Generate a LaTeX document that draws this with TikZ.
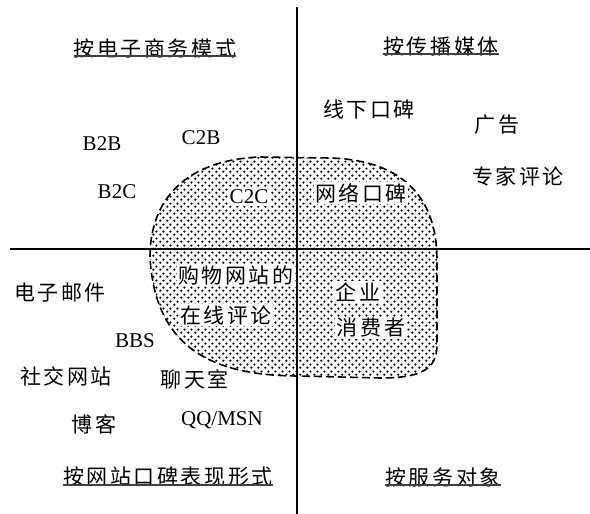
\documentclass[tikz,border=0pt]{standalone}
\usepackage{fontspec}
\setmainfont{Liberation Serif}
\newfontfamily\cjk[LetterSpace=12]{Noto Sans CJK SC}
\usetikzlibrary{positioning,patterns}
\pgfdeclarepatternformonly{blob dots}{\pgfqpoint{-1.5pt}{-1.5pt}}{\pgfqpoint{5.5pt}{5.5pt}}{\pgfqpoint{7pt}{7pt}}{%
  \pgfpathcircle{\pgfqpoint{0pt}{0pt}}{1.4pt}%
  \pgfpathcircle{\pgfqpoint{3.5pt}{3.5pt}}{1.4pt}%
  \pgfusepath{fill}}

\begin{document}
\begin{tikzpicture}[
    x=1pt, y=-1pt, % pixel grid, origin top left
    axis/.style={draw, line width=1.2pt},
    heading/.style={font=\fontsize{21}{24}\selectfont\cjk, inner sep=0pt},
    cnlabel/.style={font=\fontsize{21}{24}\selectfont\cjk, inner sep=0pt},
    enlabel/.style={font=\fontsize{21}{24}\selectfont, inner sep=0pt},
    inblob/.style={fill=white, inner sep=1.5pt},
    uline/.style={draw, line width=1.8pt, black!75},
    blob/.style={draw, line width=1.6pt, dash pattern=on 8pt off 4pt, pattern=blob dots}
]
    \useasboundingbox (0,0) rectangle (590,514);

    % Shaded region
    \path [blob] (150,257) .. controls (150,200) and (185,160) .. (260,157)
        -- (330,158) .. controls (400,160) and (437,195) .. (437,260)
        -- (437,345) .. controls (437,370) and (420,378) .. (380,378)
        -- (300,376) .. controls (215,376) and (155,350) .. (150,257) -- cycle;

    % Axes
    \coordinate (top) at (297,7);
    \coordinate (bottom) at (297,514);
    \coordinate (left) at (10,249);
    \coordinate (right) at (590,249);
    \path [axis] (top) -- (bottom);
    \path [axis] (left) -- (right);

    % Headings
    \node (ecom) [heading] at (155,48) {按电子商务模式};
    \node (media) [heading] at (441,46) {按传播媒体};
    \node (form) [heading] at (168,477) {按网站口碑表现形式};
    \node (target) [heading] at (443,477) {按服务对象};
    \path [uline] ([yshift=2pt]ecom.south west) -- ([yshift=2pt]ecom.south east);
    \path [uline] ([yshift=2pt]media.south west) -- ([yshift=2pt]media.south east);
    \path [uline] ([yshift=2pt]form.south west) -- ([yshift=2pt]form.south east);
    \path [uline] ([yshift=2pt]target.south west) -- ([yshift=2pt]target.south east);

    % Top left
    \node (b2b) [enlabel] at (102,144) {B2B};
    \node (c2b) [enlabel] at (201,138) {C2B};
    \node (b2c) [enlabel] at (117,192) {B2C};
    \node (c2c) [enlabel, inblob] at (249,197) {C2C};

    % Top right
    \node (offline) [cnlabel] at (369,109) {线下口碑};
    \node (ads) [cnlabel] at (497,125) {广告};
    \node (expert) [cnlabel] at (518,176) {专家评论};
    \node (online) [cnlabel, inblob] at (361,193) {网络口碑};

    % Bottom left
    \node (email) [cnlabel] at (60,293) {电子邮件};
    \node (bbs) [enlabel] at (135,341) {BBS};
    \node (sns) [cnlabel] at (66,376) {社交网站};
    \node (chat) [cnlabel] at (195,379) {聊天室};
    \node (blog) [cnlabel] at (94,424) {博客};
    \node (qq) [enlabel] at (222,420) {QQ/MSN};
    \node (shop) [cnlabel, inblob] at (236,275) {购物网站的};
    \node (review) [cnlabel, inblob] at (226,315) {在线评论};

    % Bottom right
    \node (firm) [cnlabel, inblob] at (358,292) {企业};
    \node (buyer) [cnlabel, inblob] at (371,328) {消费者};

\end{tikzpicture}
\end{document}
